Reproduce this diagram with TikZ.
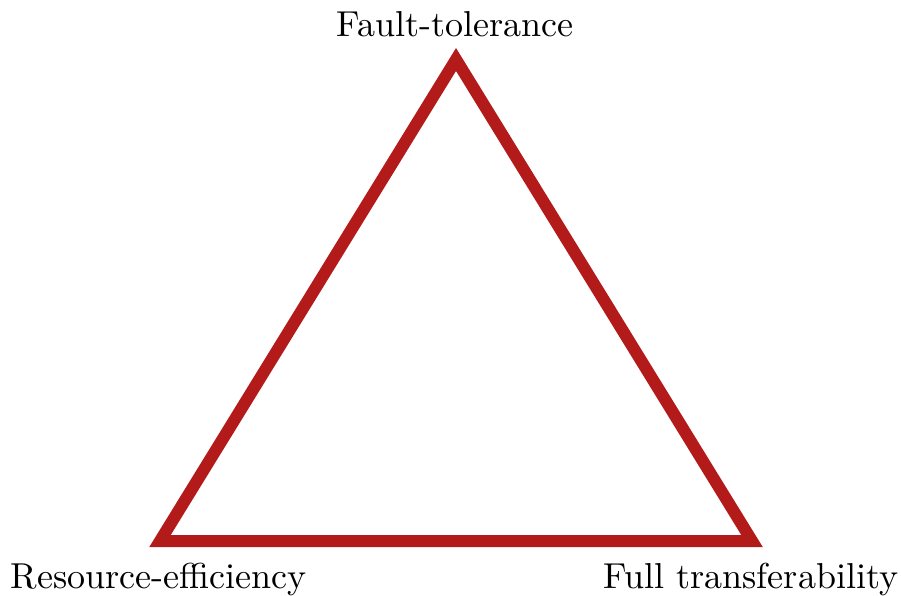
\documentclass[tikz,border=0pt]{standalone}
\definecolor{tri}{HTML}{B31B1B}
\begin{document}
\begin{tikzpicture}[x=0.283pt,y=-0.283pt,
  edge/.style={draw=tri,line width=3.4pt,miter limit=10},
  lbl/.style={anchor=base,inner sep=0pt,font=\fontsize{10.2pt}{12pt}\selectfont}]
\useasboundingbox (0,0) rectangle (901,595);
\coordinate (T) at (456,59.5);
\coordinate (L) at (160,541);
\coordinate (R) at (752,541);
\draw[edge] (T) -- (L) -- (R) -- cycle;
\node[lbl] (ft) at (455,36) {Fault-tolerance};
\node[lbl] (re) at (158.5,588) {Resource-efficiency};
\node[lbl] (tr) at (751,588) {Full transferability};
\end{tikzpicture}
\end{document}
